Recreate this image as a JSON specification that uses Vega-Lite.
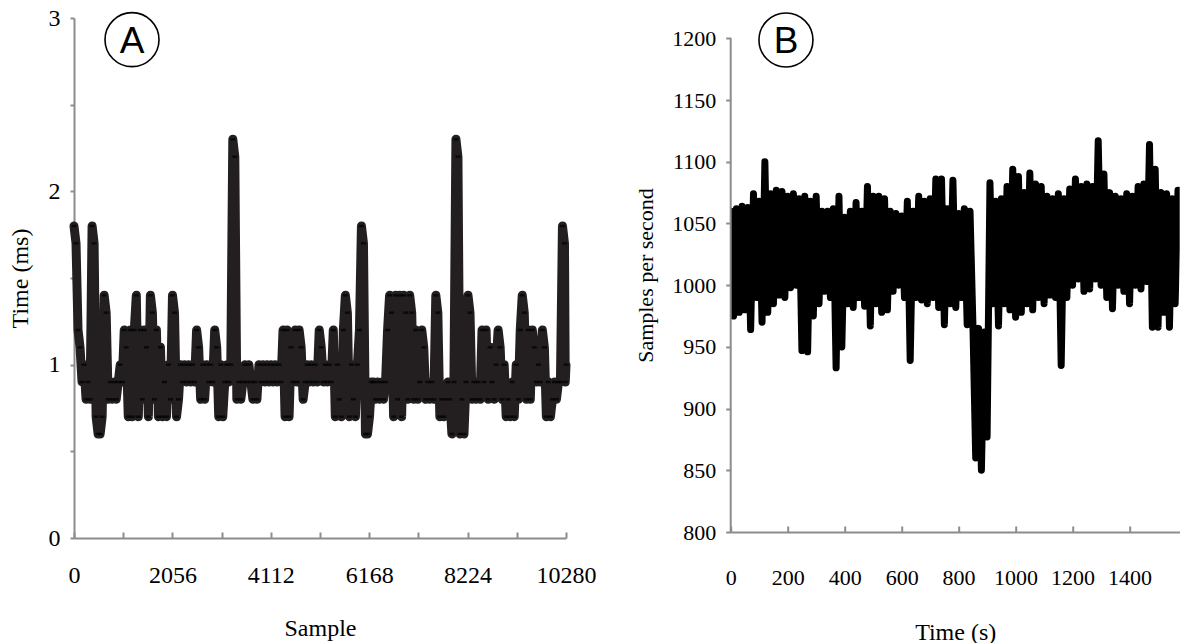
{
"$schema": "https://vega.github.io/schema/vega-lite/v6.json",
"background": "white",
"padding": {"left": 8, "top": 6, "right": 0, "bottom": 0},
"config": {"view": {"stroke": null}, "font": "Liberation Serif",
  "axis": {"grid": false, "domainColor": "#8c8c8c", "domainWidth": 2, "tickColor": "#8c8c8c", "tickWidth": 2, "labelColor": "black", "titleColor": "black", "labelFont": "Liberation Serif", "titleFont": "Liberation Serif", "titleFontWeight": "normal", "labelOverlap": false, "labelFlush": false}},
"spacing": 164.7,
"bounds": "flush",
"hconcat": [
{
 "width": 492, "height": 520,
 "data": {"values": [
{"s":0,"t":1.8},{"s":42,"t":1.7},{"s":84,"t":1.2},{"s":126,"t":1.1},{"s":168,"t":0.9},{"s":210,"t":1.0},{"s":252,"t":0.8},{"s":294,"t":0.9},{"s":336,"t":0.8},{"s":378,"t":1.8},
{"s":420,"t":1.7},{"s":462,"t":0.7},{"s":504,"t":0.6},{"s":546,"t":0.6},{"s":588,"t":0.7},{"s":630,"t":1.4},{"s":672,"t":1.3},{"s":714,"t":0.8},{"s":756,"t":0.9},{"s":798,"t":0.8},
{"s":840,"t":0.9},{"s":882,"t":0.8},{"s":924,"t":0.9},{"s":966,"t":1.0},{"s":1008,"t":0.9},{"s":1050,"t":1.2},{"s":1092,"t":1.1},{"s":1134,"t":0.7},{"s":1176,"t":1.2},{"s":1218,"t":0.7},
{"s":1260,"t":1.2},{"s":1302,"t":1.4},{"s":1344,"t":0.7},{"s":1386,"t":1.2},{"s":1428,"t":0.8},{"s":1470,"t":1.2},{"s":1512,"t":1.1},{"s":1554,"t":0.7},{"s":1596,"t":1.4},{"s":1638,"t":1.3},
{"s":1680,"t":0.8},{"s":1722,"t":1.2},{"s":1764,"t":0.7},{"s":1806,"t":1.1},{"s":1848,"t":0.7},{"s":1890,"t":0.9},{"s":1932,"t":0.7},{"s":1974,"t":1.0},{"s":2016,"t":0.8},{"s":2058,"t":1.4},
{"s":2100,"t":1.3},{"s":2142,"t":0.7},{"s":2184,"t":0.8},{"s":2226,"t":1.0},{"s":2268,"t":0.9},{"s":2310,"t":1.0},{"s":2352,"t":0.9},{"s":2394,"t":1.0},{"s":2436,"t":0.9},{"s":2478,"t":1.0},
{"s":2520,"t":0.9},{"s":2562,"t":1.2},{"s":2604,"t":1.1},{"s":2646,"t":0.8},{"s":2688,"t":1.0},{"s":2730,"t":0.8},{"s":2772,"t":1.0},{"s":2814,"t":0.9},{"s":2856,"t":1.0},{"s":2898,"t":0.9},
{"s":2940,"t":1.2},{"s":2982,"t":1.1},{"s":3024,"t":0.7},{"s":3066,"t":1.0},{"s":3108,"t":0.7},{"s":3150,"t":0.9},{"s":3192,"t":1.0},{"s":3234,"t":0.9},{"s":3276,"t":1.0},{"s":3318,"t":2.3},
{"s":3360,"t":2.2},{"s":3402,"t":0.8},{"s":3444,"t":0.9},{"s":3486,"t":0.8},{"s":3528,"t":0.9},{"s":3570,"t":1.0},{"s":3612,"t":0.9},{"s":3654,"t":1.0},{"s":3696,"t":0.9},{"s":3738,"t":0.8},
{"s":3780,"t":0.9},{"s":3822,"t":0.8},{"s":3864,"t":1.0},{"s":3906,"t":0.9},{"s":3948,"t":1.0},{"s":3990,"t":0.9},{"s":4032,"t":1.0},{"s":4074,"t":0.9},{"s":4116,"t":1.0},{"s":4158,"t":0.9},
{"s":4200,"t":1.0},{"s":4242,"t":0.9},{"s":4284,"t":1.0},{"s":4326,"t":0.9},{"s":4368,"t":1.2},{"s":4410,"t":0.7},{"s":4452,"t":1.2},{"s":4494,"t":0.7},{"s":4536,"t":1.1},{"s":4578,"t":0.9},
{"s":4620,"t":1.2},{"s":4662,"t":0.9},{"s":4704,"t":1.2},{"s":4746,"t":1.1},{"s":4788,"t":0.8},{"s":4830,"t":0.9},{"s":4872,"t":1.0},{"s":4914,"t":0.9},{"s":4956,"t":1.0},{"s":4998,"t":0.9},
{"s":5040,"t":1.0},{"s":5082,"t":0.9},{"s":5124,"t":1.2},{"s":5166,"t":1.1},{"s":5208,"t":0.9},{"s":5250,"t":1.0},{"s":5292,"t":0.9},{"s":5334,"t":1.0},{"s":5376,"t":0.9},{"s":5418,"t":1.2},
{"s":5460,"t":0.7},{"s":5502,"t":1.0},{"s":5544,"t":0.8},{"s":5586,"t":0.7},{"s":5628,"t":1.2},{"s":5670,"t":1.4},{"s":5712,"t":1.3},{"s":5754,"t":0.7},{"s":5796,"t":1.0},{"s":5838,"t":0.8},
{"s":5880,"t":0.7},{"s":5922,"t":1.0},{"s":5964,"t":1.2},{"s":6006,"t":1.8},{"s":6048,"t":1.7},{"s":6090,"t":0.6},{"s":6132,"t":0.6},{"s":6174,"t":0.7},{"s":6216,"t":0.9},{"s":6258,"t":0.9},
{"s":6300,"t":0.8},{"s":6342,"t":0.9},{"s":6384,"t":0.8},{"s":6426,"t":0.9},{"s":6468,"t":0.8},{"s":6510,"t":0.9},{"s":6552,"t":1.2},{"s":6594,"t":1.4},{"s":6636,"t":1.3},{"s":6678,"t":0.7},
{"s":6720,"t":1.4},{"s":6762,"t":0.8},{"s":6804,"t":1.4},{"s":6846,"t":0.7},{"s":6888,"t":1.4},{"s":6930,"t":1.3},{"s":6972,"t":0.8},{"s":7014,"t":1.4},{"s":7056,"t":1.3},{"s":7098,"t":0.8},
{"s":7140,"t":1.2},{"s":7182,"t":0.8},{"s":7224,"t":0.9},{"s":7266,"t":1.2},{"s":7308,"t":1.1},{"s":7350,"t":0.8},{"s":7392,"t":0.9},{"s":7434,"t":0.8},{"s":7476,"t":0.9},{"s":7518,"t":0.8},
{"s":7560,"t":1.4},{"s":7602,"t":1.3},{"s":7644,"t":0.7},{"s":7686,"t":0.8},{"s":7728,"t":0.7},{"s":7770,"t":0.8},{"s":7812,"t":0.9},{"s":7854,"t":0.8},{"s":7896,"t":0.6},{"s":7938,"t":0.9},
{"s":7980,"t":2.3},{"s":8022,"t":2.2},{"s":8064,"t":0.6},{"s":8106,"t":0.8},{"s":8148,"t":0.6},{"s":8190,"t":0.9},{"s":8232,"t":1.4},{"s":8274,"t":1.3},{"s":8316,"t":0.8},{"s":8358,"t":0.9},
{"s":8400,"t":0.8},{"s":8442,"t":0.9},{"s":8484,"t":0.8},{"s":8526,"t":1.2},{"s":8568,"t":0.9},{"s":8610,"t":1.2},{"s":8652,"t":0.8},{"s":8694,"t":1.1},{"s":8736,"t":0.9},{"s":8778,"t":0.8},
{"s":8820,"t":1.0},{"s":8862,"t":1.2},{"s":8904,"t":1.1},{"s":8946,"t":0.8},{"s":8988,"t":1.0},{"s":9030,"t":0.7},{"s":9072,"t":0.8},{"s":9114,"t":0.7},{"s":9156,"t":0.9},{"s":9198,"t":0.7},
{"s":9240,"t":1.0},{"s":9282,"t":0.8},{"s":9324,"t":1.2},{"s":9366,"t":1.4},{"s":9408,"t":1.3},{"s":9450,"t":0.8},{"s":9492,"t":1.2},{"s":9534,"t":0.8},{"s":9576,"t":1.2},{"s":9618,"t":1.1},
{"s":9660,"t":0.9},{"s":9702,"t":1.0},{"s":9744,"t":0.9},{"s":9786,"t":1.2},{"s":9828,"t":1.1},{"s":9870,"t":0.7},{"s":9912,"t":0.9},{"s":9954,"t":0.7},{"s":9996,"t":0.8},{"s":10038,"t":0.9},
{"s":10080,"t":0.8},{"s":10122,"t":0.9},{"s":10164,"t":0.9},{"s":10206,"t":1.8},{"s":10248,"t":1.7},{"s":10264,"t":0.9},{"s":10280,"t":1.0}
 ]},
 "layer": [
  {"mark": {"type": "line", "color": "#231f20", "strokeWidth": 9, "strokeCap": "round", "strokeJoin": "round"},
   "encoding": {
    "x": {"field": "s", "type": "quantitative", "scale": {"domain": [0, 10280], "nice": false},
      "axis": {"values": [0,1028,2056,3084,4112,5140,6168,7196,8224,9252,10280], "labelExpr": "datum.value % 2056 === 0 ? format(datum.value, 'd') : ''", "tickSize": -6, "labelPadding": 31, "labelFontSize": 24, "labelFont": "Liberation Serif", "title": "Sample", "titleFontSize": 24, "titlePadding": 29}},
    "y": {"field": "t", "type": "quantitative", "scale": {"domain": [0, 3], "nice": false},
      "axis": {"values": [0,0.5,1,1.5,2,2.5,3], "labelExpr": "datum.value % 1 === 0 ? format(datum.value, 'd') : ''", "tickSize": 4, "labelPadding": 10, "labelFontSize": 24, "labelFont": "Liberation Serif", "title": "Time (ms)", "titleFontSize": 24, "titlePadding": 16}}
   }},
  {"mark": {"type": "tick", "orient": "horizontal", "color": "black", "size": 5, "thickness": 2.5},
   "encoding": {"x": {"field": "s", "type": "quantitative"}, "y": {"field": "t", "type": "quantitative"}}},
  {"data": {"values": [{}]},
   "mark": {"type": "point", "shape": "circle", "size": 2916, "filled": false, "stroke": "black", "strokeWidth": 1.6, "opacity": 1},
   "encoding": {"x": {"datum": 1212, "type": "quantitative"}, "y": {"datum": 2.875, "type": "quantitative"}}},
  {"data": {"values": [{}]},
   "mark": {"type": "text", "text": "A", "font": "Liberation Sans", "fontSize": 37, "baseline": "alphabetic", "align": "center", "dy": 13, "color": "black"},
   "encoding": {"x": {"datum": 1212, "type": "quantitative"}, "y": {"datum": 2.875, "type": "quantitative"}}}
 ]
},
{
 "width": 449, "height": 514,
 "data": {"values": [
{"time":0,"sps":1060},{"time":10,"sps":975},{"time":20,"sps":1062},{"time":30,"sps":978},{"time":40,"sps":1064},{"time":50,"sps":980},{"time":60,"sps":1063},{"time":70,"sps":964},{"time":80,"sps":1074},{"time":90,"sps":990},{"time":100,"sps":1068},{"time":110,"sps":970},{"time":120,"sps":1100},{"time":130,"sps":978},{"time":140,"sps":1074},{"time":150,"sps":985},{"time":160,"sps":1077},{"time":170,"sps":992},{"time":180,"sps":1076},{"time":190,"sps":990},{"time":200,"sps":1072},{"time":210,"sps":998},{"time":220,"sps":1074},{"time":230,"sps":1000},{"time":240,"sps":1070},{"time":250,"sps":947},{"time":260,"sps":1072},{"time":270,"sps":946},{"time":280,"sps":1068},{"time":290,"sps":975},{"time":300,"sps":1072},{"time":310,"sps":985},{"time":320,"sps":1060},{"time":330,"sps":995},{"time":340,"sps":1060},{"time":350,"sps":990},{"time":360,"sps":1062},{"time":370,"sps":933},{"time":380,"sps":1072},{"time":390,"sps":950},{"time":400,"sps":1055},{"time":410,"sps":985},{"time":420,"sps":1060},{"time":430,"sps":982},{"time":440,"sps":1067},{"time":450,"sps":990},{"time":460,"sps":1060},{"time":470,"sps":983},{"time":480,"sps":1080},{"time":490,"sps":967},{"time":500,"sps":1072},{"time":510,"sps":985},{"time":520,"sps":1072},{"time":530,"sps":978},{"time":540,"sps":1070},{"time":550,"sps":980},{"time":560,"sps":1060},{"time":570,"sps":995},{"time":580,"sps":1058},{"time":590,"sps":1000},{"time":600,"sps":1056},{"time":610,"sps":990},{"time":620,"sps":1068},{"time":630,"sps":939},{"time":640,"sps":1060},{"time":650,"sps":990},{"time":660,"sps":1072},{"time":670,"sps":988},{"time":680,"sps":1068},{"time":690,"sps":985},{"time":700,"sps":1070},{"time":710,"sps":990},{"time":720,"sps":1086},{"time":730,"sps":982},{"time":740,"sps":1086},{"time":750,"sps":968},{"time":760,"sps":1062},{"time":770,"sps":985},{"time":780,"sps":1085},{"time":790,"sps":982},{"time":800,"sps":1058},{"time":810,"sps":990},{"time":820,"sps":1062},{"time":830,"sps":968},{"time":840,"sps":1060},{"time":850,"sps":970},{"time":860,"sps":860},{"time":870,"sps":965},{"time":880,"sps":850},{"time":890,"sps":962},{"time":900,"sps":877},{"time":910,"sps":1083},{"time":920,"sps":985},{"time":930,"sps":1068},{"time":940,"sps":967},{"time":950,"sps":1070},{"time":960,"sps":985},{"time":970,"sps":1080},{"time":980,"sps":980},{"time":990,"sps":1094},{"time":1000,"sps":974},{"time":1010,"sps":1088},{"time":1020,"sps":978},{"time":1030,"sps":1075},{"time":1040,"sps":985},{"time":1050,"sps":1091},{"time":1060,"sps":980},{"time":1070,"sps":1082},{"time":1080,"sps":990},{"time":1090,"sps":1080},{"time":1100,"sps":985},{"time":1110,"sps":1072},{"time":1120,"sps":992},{"time":1130,"sps":1070},{"time":1140,"sps":990},{"time":1150,"sps":1074},{"time":1160,"sps":935},{"time":1170,"sps":1070},{"time":1180,"sps":990},{"time":1190,"sps":1078},{"time":1200,"sps":1000},{"time":1210,"sps":1086},{"time":1220,"sps":1005},{"time":1230,"sps":1080},{"time":1240,"sps":995},{"time":1250,"sps":1082},{"time":1260,"sps":997},{"time":1270,"sps":1080},{"time":1280,"sps":1005},{"time":1290,"sps":1117},{"time":1300,"sps":1000},{"time":1310,"sps":1090},{"time":1320,"sps":990},{"time":1330,"sps":1075},{"time":1340,"sps":981},{"time":1350,"sps":1072},{"time":1360,"sps":1000},{"time":1370,"sps":1070},{"time":1380,"sps":995},{"time":1390,"sps":1074},{"time":1400,"sps":985},{"time":1410,"sps":1072},{"time":1420,"sps":1000},{"time":1430,"sps":1080},{"time":1440,"sps":997},{"time":1450,"sps":1082},{"time":1460,"sps":1003},{"time":1470,"sps":1114},{"time":1480,"sps":966},{"time":1490,"sps":1094},{"time":1500,"sps":966},{"time":1510,"sps":1075},{"time":1520,"sps":978},{"time":1530,"sps":1074},{"time":1540,"sps":966},{"time":1550,"sps":1070},{"time":1560,"sps":985},{"time":1570,"sps":1077}
 ]},
 "layer": [
  {"mark": {"type": "line", "color": "black", "strokeWidth": 7, "strokeCap": "round", "strokeJoin": "round", "clip": true},
   "encoding": {
    "x": {"field": "time", "type": "quantitative", "scale": {"domain": [0, 1576], "nice": false},
      "axis": {"values": [0,200,400,600,800,1000,1200,1400], "format": "d", "tickSize": -6, "labelPadding": 41, "labelFontSize": 22, "labelFont": "Liberation Serif", "title": "Time (s)", "titleFontSize": 24, "titlePadding": 32}},
    "y": {"field": "sps", "type": "quantitative", "scale": {"domain": [800, 1216.5], "nice": false, "zero": false},
      "axis": {"values": [800,850,900,950,1000,1050,1100,1150,1200], "format": "d", "domain": false, "tickSize": 5, "labelPadding": 10, "labelFontSize": 22, "labelFont": "Liberation Serif", "title": "Samples per second", "titleFontSize": 22, "titlePadding": 14}}
   }},
  {"data": {"values": [{}]},
   "mark": {"type": "rule", "color": "#8c8c8c", "strokeWidth": 2},
   "encoding": {"x": {"datum": 0, "type": "quantitative"}, "y": {"datum": 800, "type": "quantitative"}, "y2": {"datum": 1200}}},
  {"data": {"values": [{}]},
   "mark": {"type": "point", "shape": "circle", "size": 2916, "filled": false, "stroke": "black", "strokeWidth": 1.6, "opacity": 1},
   "encoding": {"x": {"datum": 194, "type": "quantitative"}, "y": {"datum": 1198.7, "type": "quantitative"}}},
  {"data": {"values": [{}]},
   "mark": {"type": "text", "text": "B", "font": "Liberation Sans", "fontSize": 37, "baseline": "alphabetic", "align": "center", "dy": 13, "color": "black"},
   "encoding": {"x": {"datum": 194, "type": "quantitative"}, "y": {"datum": 1198.7, "type": "quantitative"}}}
 ]
}
]
}
